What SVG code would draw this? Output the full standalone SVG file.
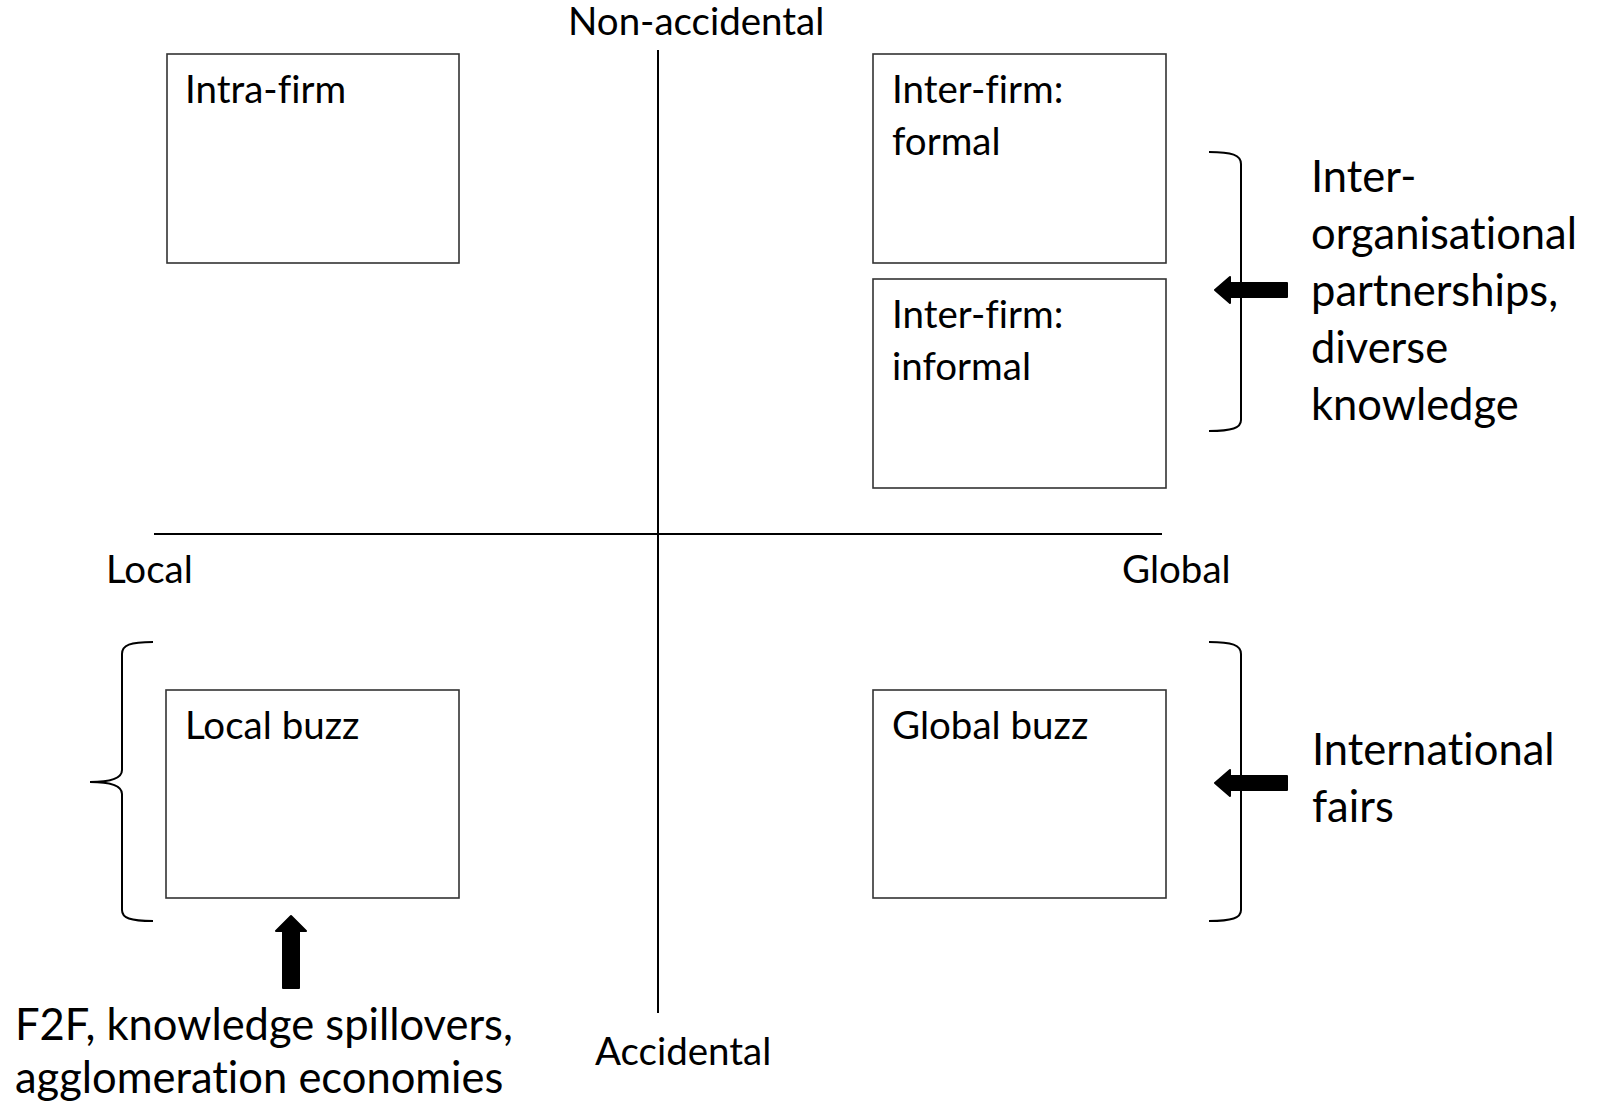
<svg xmlns="http://www.w3.org/2000/svg" width="1602" height="1106" viewBox="0 0 1602 1106">
<style>
text{font-family:Lato,"Liberation Sans",sans-serif;fill:#000;font-variant-ligatures:none}
.lbl{font-size:38.5px}
.big{font-size:43.5px}
.box{fill:#fff;stroke:#333;stroke-width:1.6}
.axis{stroke:#000;stroke-width:2;fill:none}
.br{stroke:#000;stroke-width:2;fill:none}
.arr{fill:#000;stroke:#000;stroke-width:2;stroke-linejoin:round}
</style>
<rect width="1602" height="1106" fill="#fff"/>
<g id="axes">
<line class="axis" x1="658" y1="50" x2="658" y2="1013"/>
<line class="axis" x1="154" y1="534" x2="1162" y2="534"/>
<text class="lbl" x="568" y="35">Non-accidental</text>
<text class="lbl" x="595" y="1065">Accidental</text>
<text class="lbl" x="106" y="583">Local</text>
<text class="lbl" x="1122" y="583">Global</text>
</g>
<g id="intra-firm">
<rect class="box" x="167" y="54" width="292" height="209"/>
<text class="lbl" x="185" y="103">Intra-firm</text>
</g>
<g id="inter-firm-formal">
<rect class="box" x="873" y="54" width="293" height="209"/>
<text class="lbl" x="892" y="103">Inter-firm:</text>
<text class="lbl" x="892" y="155">formal</text>
</g>
<g id="inter-firm-informal">
<rect class="box" x="873" y="279" width="293" height="209"/>
<text class="lbl" x="892" y="328">Inter-firm:</text>
<text class="lbl" x="892" y="380">informal</text>
</g>
<g id="local-buzz">
<rect class="box" x="166" y="690" width="293" height="208"/>
<text class="lbl" x="185" y="739">Local buzz</text>
</g>
<g id="global-buzz">
<rect class="box" x="873" y="690" width="293" height="208"/>
<text class="lbl" x="892" y="739">Global buzz</text>
</g>
<g id="inter-org-note">
<text class="big" x="1311" y="192">Inter-</text>
<text class="big" x="1311" y="249">organisational</text>
<text class="big" x="1311" y="306">partnerships,</text>
<text class="big" x="1311" y="363">diverse</text>
<text class="big" x="1311" y="420">knowledge</text>
</g>
<g id="fairs-note">
<text class="big" x="1312" y="765">International</text>
<text class="big" x="1312" y="822">fairs</text>
</g>
<g id="f2f-note">
<text class="big" x="15" y="1040">F2F, knowledge spillovers,</text>
<text class="big" x="15" y="1093">agglomeration economies</text>
</g>
<g id="connectors">
<path class="br" d="M1209,152 C1232,152 1241,155 1241,164 L1241,420 C1241,428 1232,431 1209,431"/>
<path class="br" d="M1209,642 C1232,642 1241,645 1241,654 L1241,910 C1241,918 1232,921 1209,921"/>
<path class="br" d="M153,642 C130,642 122,645 122,654 L122,770 C122,778 112,782 90,782 C112,782 122,786 122,794 L122,910 C122,918 130,921 153,921"/>
<polygon class="arr" points="1215,290 1230,277 1230,283 1287,283 1287,297 1230,297 1230,303"/>
<polygon class="arr" points="1215,783 1230,770 1230,776 1287,776 1287,790 1230,790 1230,796"/>
<polygon class="arr" points="291,916 306,931 299,931 299,988 283,988 283,931 276,931"/>
</g>
</svg>
